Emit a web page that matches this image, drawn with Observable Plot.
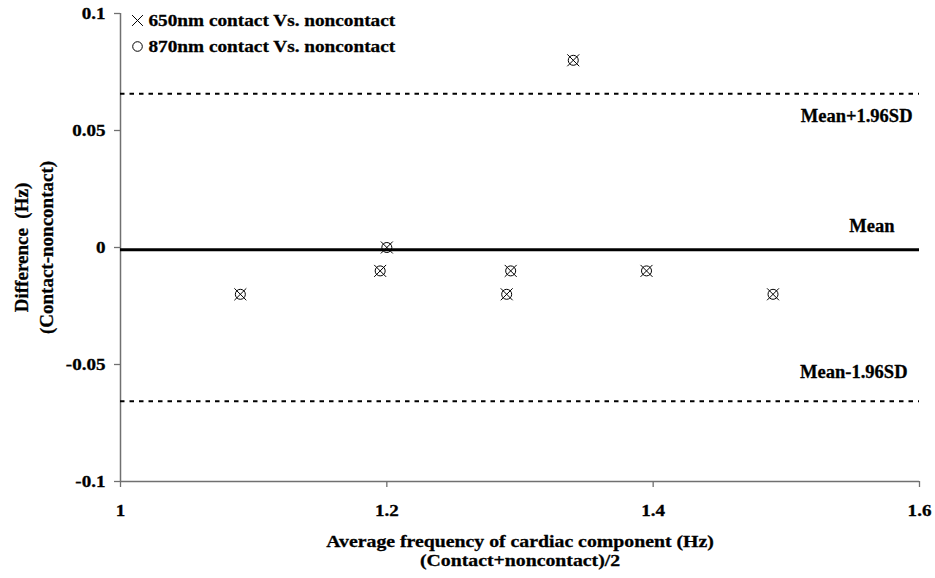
<!DOCTYPE html>
<html>
<head>
<meta charset="utf-8">
<script src="https://cdn.jsdelivr.net/npm/d3@7"></script>
<script src="https://cdn.jsdelivr.net/npm/@observablehq/plot@0.6"></script>
<style>
  body { margin: 0; background: #fff; }
  #chart svg { font-family: "Liberation Serif", "Times New Roman", serif; font-weight: bold; }
  #chart svg text { stroke: #000; stroke-width: 0.3px; }
</style>
</head>
<body>
<div id="chart"></div>
<script>
// Average frequency (x) and difference (y) for each subject
const avgFreq650 = [1.09, 1.195, 1.2, 1.29, 1.293, 1.34, 1.395, 1.49];
const diff650    = [-0.02, -0.01, 0.0, -0.02, -0.01, 0.08, -0.01, -0.02];
const avgFreq870 = [1.09, 1.195, 1.2, 1.29, 1.293, 1.34, 1.395, 1.49];
const diff870    = [-0.02, -0.01, 0.0, -0.02, -0.01, 0.08, -0.01, -0.02];

const meanValue = -0.001;
const upperLimit = 0.0657;
const lowerLimit = -0.0657;

const xTicks = [1, 1.2, 1.4, 1.6];
const yTicks = [-0.1, -0.05, 0, 0.05, 0.1];
const xDomain = [1, 1.6];
const yDomain = [-0.1, 0.1];

const legendLabels = ["650nm contact Vs. noncontact", "870nm contact Vs. noncontact"];
const legendSymbols = ["times", "circle"];
const xTitle = "Average frequency of cardiac component (Hz)\n(Contact+noncontact)/2";
const yTitle = "Difference  (Hz)\n(Contact-noncontact)";

const pts650 = avgFreq650.map((x, i) => ({x, y: diff650[i]}));
const pts870 = avgFreq870.map((x, i) => ({x, y: diff870[i]}));
const legend = legendLabels.map((label, i) => ({label, symbol: legendSymbols[i], i}));
const fmt = d => String(d);

const axisColor = "#707070";

const legendMarks = legend.flatMap(d => [
  Plot.dot([d], {frameAnchor: "top-left", dx: 17, dy: 7 + d.i * 26, symbol: "symbol", r: d.symbol === "times" ? 5 : 4.8, stroke: "#000", strokeWidth: 1, fill: "none"}),
  Plot.text([d], {frameAnchor: "top-left", dx: 28, dy: 7 + d.i * 26, text: "label", textAnchor: "start", lineAnchor: "middle", fontSize: 17.5, fontWeight: "bold", fill: "#000", className: "stretch-legend"})
]);

const chart = Plot.plot({
  width: 935,
  height: 578,
  marginLeft: 120,
  marginRight: 16,
  marginTop: 13,
  marginBottom: 97,
  style: {fontFamily: "'Liberation Serif', 'Times New Roman', serif", fontWeight: "bold", background: "#fff", color: "#000"},
  x: {domain: xDomain},
  y: {domain: yDomain},
  marks: [
    // axes
    Plot.axisX({ticks: xTicks, tickFormat: fmt, tickSize: 6, tickPadding: 16, fontSize: 17, label: null, stroke: axisColor, strokeWidth: 1.3}),
    Plot.axisY({ticks: yTicks, tickFormat: fmt, tickSize: 6, tickPadding: 9, fontSize: 17, label: null, stroke: axisColor, strokeWidth: 1.3}),
    Plot.ruleX([xDomain[0]], {stroke: axisColor, strokeWidth: 1.5}),
    Plot.ruleY([yDomain[0]], {stroke: axisColor, strokeWidth: 1.5}),
    // reference lines
    Plot.ruleY([upperLimit, lowerLimit], {stroke: "#000", strokeWidth: 2, strokeDasharray: "4.5,5"}),
    Plot.ruleY([meanValue], {stroke: "#000", strokeWidth: 3}),
    Plot.text([upperLimit], {x: () => xDomain[1], y: d => d, text: () => "Mean+1.96SD", textAnchor: "end", dx: -7, dy: 22, fontSize: 18.5, fontWeight: "bold", fill: "#000"}),
    Plot.text([meanValue], {x: () => xDomain[1], y: d => d, text: () => "Mean", textAnchor: "end", dx: -25, dy: -24, fontSize: 18.5, fontWeight: "bold", fill: "#000"}),
    Plot.text([lowerLimit], {x: () => xDomain[1], y: d => d, text: () => "Mean-1.96SD", textAnchor: "end", dx: -12, dy: -29, fontSize: 18.5, fontWeight: "bold", fill: "#000"}),
    // data
    Plot.dot(pts870, {x: "x", y: "y", symbol: "circle", r: 5, stroke: "#000", strokeWidth: 1, fill: "none"}),
    Plot.dot(pts650, {x: "x", y: "y", symbol: "times", r: 5.5, stroke: "#000", strokeWidth: 1, fill: "none"}),
    // legend
    ...legendMarks,
    // axis titles
    Plot.text([xTitle], {frameAnchor: "bottom", dy: 69, text: d => d, textAnchor: "middle", lineAnchor: "middle", lineHeight: 1.1, fontSize: 17.5, fontWeight: "bold", fill: "#000", className: "stretch-title"}),
    Plot.text([yTitle], {frameAnchor: "left", dx: -88, rotate: -90, text: d => d, textAnchor: "middle", lineAnchor: "middle", lineHeight: 1.3, fontSize: 19, fontWeight: "bold", fill: "#000"})
  ]
});
document.getElementById("chart").appendChild(chart);

// Horizontal stretch of the wide bold serif lettering seen in the reference
function stretch(nodes, factor) {
  nodes.each(function () {
    const len = this.getComputedTextLength();
    if (len > 0) {
      this.setAttribute("textLength", (len * factor).toFixed(2));
      this.setAttribute("lengthAdjust", "spacingAndGlyphs");
    }
  });
}
const svg = d3.select(chart);
stretch(svg.selectAll('g[aria-label="x-axis tick label"] text, g[aria-label="y-axis tick label"] text'), 1.12);
stretch(svg.selectAll('.stretch-legend text'), 1.1);
stretch(svg.selectAll('.stretch-title text tspan'), 1.13);
</script>
</body>
</html>
